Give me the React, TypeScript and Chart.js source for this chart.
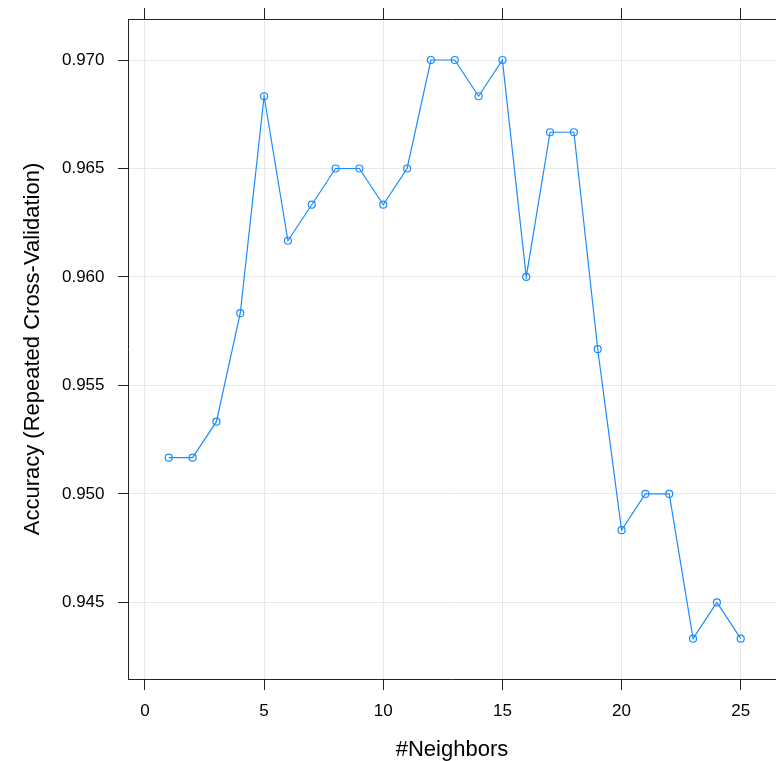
import React, { useEffect, useRef } from "react";
import { Chart, registerables } from "chart.js";

Chart.register(...registerables);

const neighbors = [1, 2, 3, 4, 5, 6, 7, 8, 9, 10, 11, 12, 13, 14, 15, 16, 17, 18, 19, 20, 21, 22, 23, 24, 25];
const accuracy = [
  0.95167, 0.95167, 0.95333, 0.95833, 0.96833, 0.96167, 0.96333, 0.965, 0.965, 0.96333,
  0.965, 0.97, 0.97, 0.96833, 0.97, 0.96, 0.96667, 0.96667, 0.95667, 0.94833,
  0.95, 0.95, 0.94333, 0.945, 0.94333,
];
const xTickValues = [0, 5, 10, 15, 20, 25];
const yTickValues = [0.945, 0.95, 0.955, 0.96, 0.965, 0.97];
const xTitle = "#Neighbors";
const yTitle = "Accuracy (Repeated Cross-Validation)";

const FONT = "'Liberation Sans', Arial, sans-serif";
const AXIS_COLOR = "#222222";
const GRID_COLOR = "#e8e8e8";
const LINE_COLOR = "#1a8cff";

const clearPadding = (s: any) => {
  s.paddingTop = 0;
  s.paddingBottom = 0;
  s.paddingLeft = 0;
  s.paddingRight = 0;
};

export default function App() {
  const ref = useRef<HTMLCanvasElement | null>(null);

  useEffect(() => {
    if (!ref.current) return;
    const xMin = -0.71;
    const xMax = 26.48;
    const chart = new Chart(ref.current, {
      type: "line",
      data: {
        datasets: [
          {
            data: neighbors.map((n, i) => ({ x: n, y: accuracy[i] })),
            borderColor: LINE_COLOR,
            borderWidth: 1.2,
            pointStyle: "circle",
            pointRadius: 3.5,
            pointHoverRadius: 3.5,
            pointBorderWidth: 1.2,
            pointBorderColor: LINE_COLOR,
            pointBackgroundColor: "rgba(255,255,255,0)",
            tension: 0,
            fill: false,
          },
        ],
      },
      options: {
        animation: false,
        responsive: true,
        maintainAspectRatio: false,
        events: [],
        layout: { padding: 0, autoPadding: false },
        plugins: { legend: { display: false }, tooltip: { enabled: false } },
        scales: {
          x: {
            type: "linear",
            position: "bottom",
            min: xMin,
            max: xMax,
            afterBuildTicks: (s: any) => {
              s.ticks = xTickValues.map((v) => ({ value: v }));
            },
            afterFit: (s: any) => {
              s.height = 82;
              clearPadding(s);
            },
            grid: {
              color: GRID_COLOR,
              lineWidth: 1,
              drawOnChartArea: true,
              drawTicks: true,
              tickLength: 11,
              tickColor: AXIS_COLOR,
              tickWidth: 1,
            },
            border: { display: true, color: AXIS_COLOR, width: 1 },
            ticks: {
              color: "#000",
              font: { family: FONT, size: 17 },
              padding: 11,
              maxRotation: 0,
              autoSkip: false,
              callback: (v: any) => String(v),
            },
            title: {
              display: true,
              text: xTitle,
              color: "#000",
              font: { family: FONT, size: 22, lineHeight: 1 },
              padding: { top: 0, bottom: 0 },
            },
          },
          xTop: {
            type: "linear",
            position: "top",
            min: xMin,
            max: xMax,
            afterBuildTicks: (s: any) => {
              s.ticks = xTickValues.map((v) => ({ value: v }));
            },
            afterFit: (s: any) => {
              s.height = 19;
              clearPadding(s);
            },
            grid: {
              drawOnChartArea: false,
              drawTicks: true,
              tickLength: 11,
              tickColor: AXIS_COLOR,
              tickWidth: 1,
            },
            border: { display: true, color: AXIS_COLOR, width: 1 },
            ticks: { display: false },
          },
          y: {
            type: "linear",
            position: "left",
            min: 0.94147,
            max: 0.97189,
            afterBuildTicks: (s: any) => {
              s.ticks = yTickValues.map((v) => ({ value: v }));
            },
            afterFit: (s: any) => {
              s.width = 128;
              clearPadding(s);
            },
            grid: {
              color: GRID_COLOR,
              lineWidth: 1,
              drawOnChartArea: true,
              drawTicks: true,
              tickLength: 10,
              tickColor: AXIS_COLOR,
              tickWidth: 1,
            },
            border: { display: true, color: AXIS_COLOR, width: 1 },
            ticks: {
              color: "#000",
              font: { family: FONT, size: 17 },
              padding: 13.5,
              autoSkip: false,
              callback: (v: any) => Number(v).toFixed(3),
            },
            title: {
              display: true,
              text: yTitle,
              color: "#000",
              font: { family: FONT, size: 22, lineHeight: 1.2 },
              padding: { top: 19.8, bottom: 0 },
            },
          },
        },
      },
    });
    return () => chart.destroy();
  }, []);

  return (
    <div style={{ position: "fixed", left: 0, top: 0, width: 776, height: 761, background: "#fff" }}>
      <canvas ref={ref} />
    </div>
  );
}
